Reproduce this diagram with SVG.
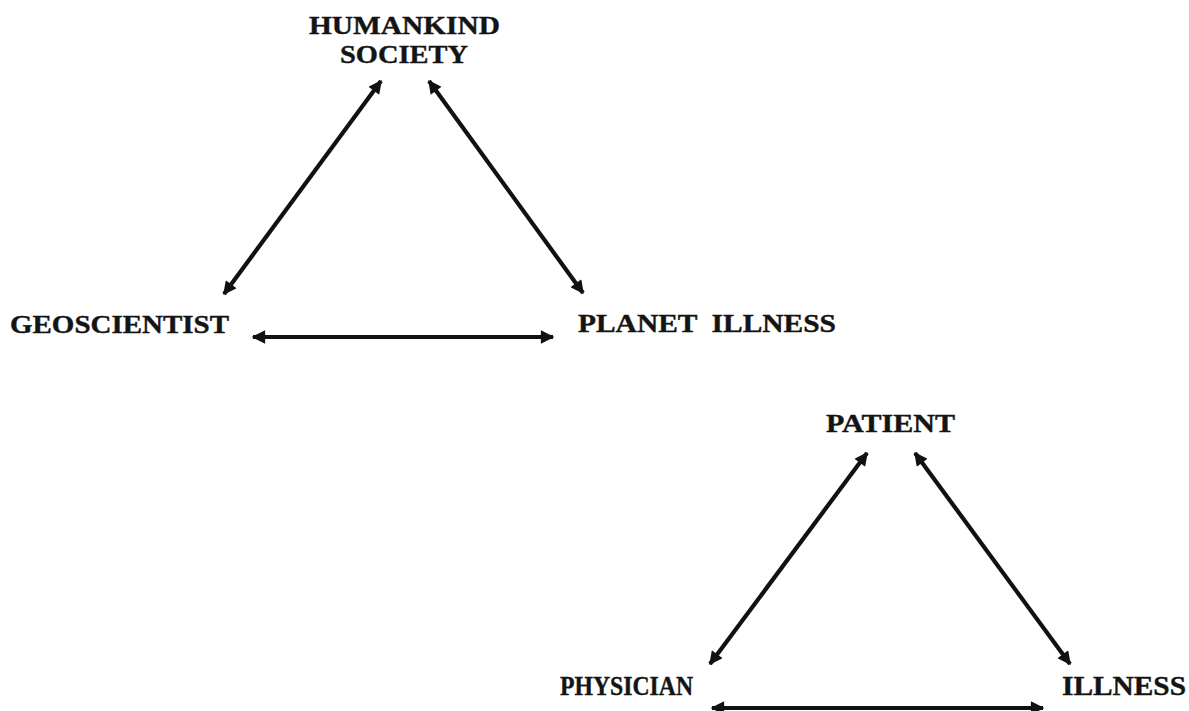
<svg xmlns="http://www.w3.org/2000/svg" width="1189" height="711" viewBox="0 0 1189 711">
  <style>
    .lbl { font-family: "Liberation Serif", "Times New Roman", serif; font-weight: bold; font-size: 26px; fill: #141414; stroke: #141414; stroke-width: 0.4; }
    .big { font-size: 28px; }
    .link { stroke: #111; stroke-width: 4.2; fill: none; marker-start: url(#headStart); marker-end: url(#headEnd); }
  </style>
  <defs>
    <marker id="headEnd" viewBox="0 0 10 10" refX="9" refY="5" markerWidth="3.8" markerHeight="3.2" orient="auto" markerUnits="strokeWidth">
      <path d="M0,0 L10,5 L0,10 Z" fill="#111"/>
    </marker>
    <marker id="headStart" viewBox="0 0 10 10" refX="1" refY="5" markerWidth="3.8" markerHeight="3.2" orient="auto" markerUnits="strokeWidth">
      <path d="M10,0 L0,5 L10,10 Z" fill="#111"/>
    </marker>
  </defs>

  <!-- upper triangle -->
  <g id="humankind-society">
    <text class="lbl" x="309" y="34" textLength="191" lengthAdjust="spacingAndGlyphs">HUMANKIND</text>
    <text class="lbl" x="340" y="63" textLength="128" lengthAdjust="spacingAndGlyphs">SOCIETY</text>
  </g>
  <g id="geoscientist">
    <text class="lbl" x="10" y="333" textLength="219" lengthAdjust="spacingAndGlyphs">GEOSCIENTIST</text>
  </g>
  <g id="planet-illness">
    <text class="lbl" x="578" y="332" textLength="258" lengthAdjust="spacingAndGlyphs" xml:space="preserve">PLANET  ILLNESS</text>
  </g>

  <!-- lower triangle -->
  <g id="patient">
    <text class="lbl" x="826" y="432" textLength="129" lengthAdjust="spacingAndGlyphs">PATIENT</text>
  </g>
  <g id="physician">
    <text class="lbl big" x="560" y="695" textLength="133" lengthAdjust="spacingAndGlyphs">PHYSICIAN</text>
  </g>
  <g id="illness">
    <text class="lbl big" x="1062" y="695" textLength="124" lengthAdjust="spacingAndGlyphs">ILLNESS</text>
  </g>

  <!-- two-way connectors -->
  <g id="connectors">
    <line class="link" x1="381" y1="81" x2="224" y2="294"/>
    <line class="link" x1="429" y1="81" x2="583" y2="293"/>
    <line class="link" x1="253" y1="337" x2="553" y2="337"/>
    <line class="link" x1="867" y1="453" x2="710" y2="664"/>
    <line class="link" x1="915" y1="453" x2="1070" y2="664"/>
    <line class="link" x1="712" y1="708" x2="1043" y2="708"/>
  </g>
</svg>
